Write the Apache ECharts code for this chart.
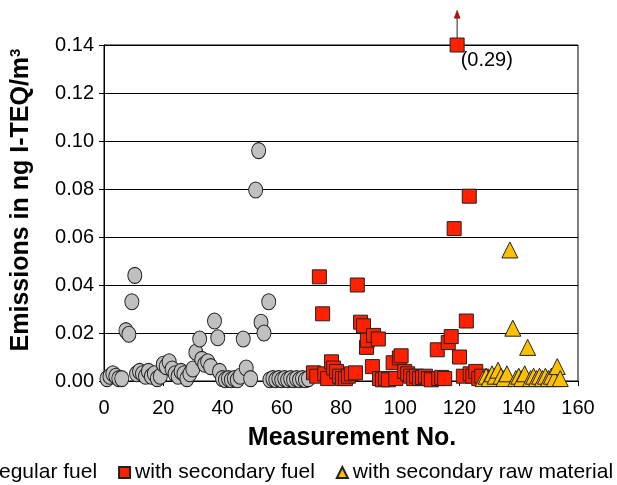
<!DOCTYPE html>
<html>
<head>
<meta charset="utf-8">
<script src="https://cdn.jsdelivr.net/npm/echarts@6/dist/echarts.min.js"></script>
<style>
  html, body { margin: 0; padding: 0; background: #fff; }
  #chart { width: 617px; height: 485px; }
</style>
</head>
<body>
<div id="chart"></div>
<script>
// [measurement no., emission in ng I-TEQ/m3]
const regularFuel = [
  [1, 0.001], [2, 0.002], [3, 0.003], [4, 0.002], [5, 0.001], [6, 0.001],
  [7.4, 0.021], [8.4, 0.0195], [9.4, 0.033], [10.4, 0.044],
  [11, 0.003], [12, 0.004], [13, 0.003], [14, 0.002], [15, 0.004], [16, 0.002],
  [17, 0.003], [18, 0.001], [19, 0.002], [20, 0.007], [21, 0.006], [22, 0.008],
  [23, 0.005], [24, 0.003], [25, 0.002], [26, 0.004], [27, 0.003], [28, 0.001],
  [29, 0.003], [30, 0.005], [31, 0.012], [32.3, 0.0175], [33, 0.009], [34, 0.007],
  [35, 0.008], [36, 0.006], [37.3, 0.025], [38.4, 0.018], [39, 0.004], [40, 0.001],
  [41, 0.0005], [42, 0.001], [43, 0.0005], [44, 0.001], [45, 0.0005], [46, 0.002],
  [47, 0.0175], [48, 0.0054], [49.5, 0.001], [51.2, 0.0796], [52.2, 0.096],
  [53, 0.0245], [54, 0.020], [55.6, 0.033], [56, 0.0005], [57, 0.001], [58, 0.0005],
  [59, 0.001], [60, 0.0005], [61, 0.001], [62, 0.0005], [63, 0.001], [64, 0.0005],
  [65, 0.001], [66, 0.0005], [67, 0.001], [68, 0.0005], [69, 0.001]
];

const secondaryFuel = [
  [70.7, 0.0034], [71.8, 0.002], [72.7, 0.0434], [73.8, 0.028], [74.5, 0.003],
  [75.5, 0.001], [76.8, 0.008], [77.5, 0.0054], [78.5, 0.004], [79.5, 0.002],
  [80.5, 0.001], [81.5, 0.001], [82.5, 0.002], [83.5, 0.003], [84.9, 0.0034],
  [85.5, 0.040], [86.6, 0.0245], [87.6, 0.023], [88.6, 0.014], [88.9, 0.017],
  [90.6, 0.006], [91, 0.019], [92.6, 0.0175], [93, 0.001], [94, 0.0005],
  [95, 0.001], [96, 0.0005], [97.6, 0.0076], [98.5, 0.001], [99.7, 0.0096],
  [100.3, 0.0105], [101.5, 0.004], [102.5, 0.003], [103.5, 0.002], [104.5, 0.001],
  [105.5, 0.002], [106.5, 0.001], [107.5, 0.0015], [108.5, 0.002], [109.5, 0.001],
  [110.5, 0.0005], [112.5, 0.013], [113, 0.001], [114, 0.0015], [115, 0.001],
  [116.2, 0.016], [117.2, 0.0185], [118.2, 0.0635], [120, 0.010], [121.3, 0.002],
  [122.3, 0.025], [123.3, 0.077], [123.6, 0.003], [124.5, 0.002], [125.5, 0.004],
  [126.5, 0.001], [127.5, 0.002]
];

// off-scale point, real value 0.29; arrow tip value
const offScale = [119.2, 0.14];
const offScaleLabel = '(0.29)';
const arrowTop = 0.1545;

const secondaryRaw = [
  [128, 0.001], [129, 0.002], [130, 0.001], [131, 0.003], [132, 0.002],
  [133, 0.0045], [134, 0.002], [135, 0.001], [136, 0.003], [137, 0.0546],
  [138, 0.022], [139, 0.001], [140, 0.002], [141, 0.001], [142, 0.003],
  [143, 0.014], [144, 0.001], [145, 0.002], [146, 0.001], [147, 0.002],
  [148, 0.001], [149, 0.002], [150, 0.001], [151, 0.002], [152, 0.001],
  [153, 0.006], [154, 0.001]
];

const FONT = '"Liberation Sans", Arial, sans-serif';

const chart = echarts.init(document.getElementById('chart'));
chart.setOption({
  animation: false,
  backgroundColor: '#fff',
  textStyle: { fontFamily: FONT, color: '#000' },
  grid: {
    left: 103, right: 39, top: 45, bottom: 104,
    show: true, borderColor: '#000', borderWidth: 1
  },
  legend: {
    left: -30,
    top: 457,
    width: 800,
    itemWidth: 11,
    itemHeight: 11,
    itemGap: 21,
    textStyle: { fontSize: 21, fontFamily: FONT, color: '#000' },
    data: [
      { name: 'regular fuel', icon: 'circle' },
      { name: 'with secondary fuel', icon: 'rect' },
      { name: 'with secondary raw material', icon: 'triangle' }
    ]
  },
  xAxis: {
    type: 'value',
    min: 0, max: 160, interval: 20,
    name: 'Measurement No.',
    nameLocation: 'middle',
    nameGap: 45,
    nameTextStyle: { fontSize: 25, fontWeight: 'bold', fontFamily: FONT, color: '#000', padding: [0, 0, 0, 22] },
    axisLine: { lineStyle: { color: '#000', width: 1 } },
    axisTick: { show: true, length: 5, lineStyle: { color: '#000' } },
    axisLabel: { fontSize: 20, color: '#000', margin: 17 },
    splitLine: { show: false }
  },
  yAxis: {
    type: 'value',
    min: 0, max: 0.14, interval: 0.02,
    name: 'Emissions in ng I-TEQ/m{sup|3}',
    nameLocation: 'middle',
    nameGap: 70,
    nameRotate: 90,
    nameTextStyle: {
      fontSize: 25, fontWeight: 'bold', fontFamily: FONT, color: '#000',
      padding: [0, 0, 0, 26],
      rich: { sup: { fontSize: 15, fontWeight: 'bold', verticalAlign: 'top', padding: [0, 0, 11, 0] } }
    },
    axisLine: { show: true, lineStyle: { color: '#000', width: 1 } },
    axisTick: { show: true, length: 5, lineStyle: { color: '#000' } },
    axisLabel: { fontSize: 20, color: '#000', margin: 10, formatter: v => v.toFixed(2) },
    splitLine: { show: true, lineStyle: { color: '#000', width: 1 } }
  },
  series: [
    {
      name: 'regular fuel',
      type: 'scatter',
      symbol: 'circle',
      symbolSize: [14, 16],
      itemStyle: { color: '#c0c0c0', borderColor: '#222', borderWidth: 1, opacity: 1 },
      data: regularFuel
    },
    {
      name: 'with secondary fuel',
      type: 'scatter',
      symbol: 'rect',
      symbolSize: [14, 14],
      itemStyle: { color: '#ff2000', borderColor: '#222', borderWidth: 1, opacity: 1 },
      data: secondaryFuel.concat([{
        value: offScale,
        label: {
          show: true, formatter: offScaleLabel, position: 'right',
          distance: 0, offset: [-4, 15], fontSize: 20, color: '#000', fontFamily: FONT
        }
      }])
    },
    {
      name: 'with secondary raw material',
      type: 'scatter',
      symbol: 'triangle',
      symbolSize: [16, 16],
      itemStyle: { color: '#ffc000', borderColor: '#222', borderWidth: 1, opacity: 1 },
      data: secondaryRaw
    }
  ]
});

// arrow above the off-scale point, placed through the axes
const base = chart.convertToPixel({ gridIndex: 0 }, offScale);
const tip = chart.convertToPixel({ gridIndex: 0 }, [offScale[0], arrowTop]);
chart.setOption({
  graphic: [
    {
      type: 'line', z: 10, silent: true,
      shape: { x1: base[0], y1: base[1] - 7, x2: base[0], y2: tip[1] + 6 },
      style: { stroke: '#222', lineWidth: 1 }
    },
    {
      type: 'polygon', z: 10, silent: true,
      shape: { points: [[base[0], tip[1]], [base[0] - 3, tip[1] + 8], [base[0] + 3, tip[1] + 8]] },
      style: { fill: '#e00000', stroke: '#222', lineWidth: 0.5 }
    }
  ]
});
</script>
</body>
</html>
